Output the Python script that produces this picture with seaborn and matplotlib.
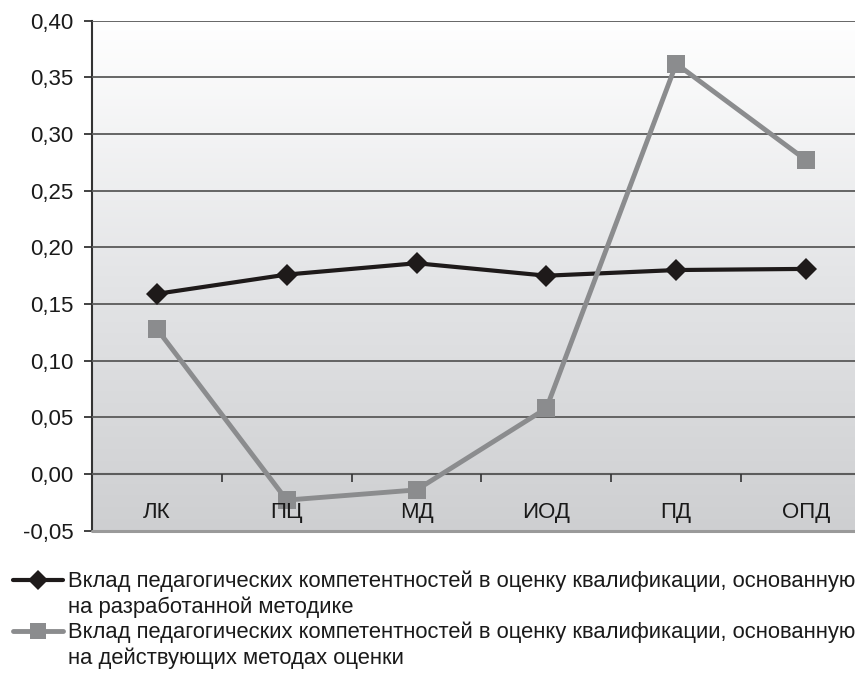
import numpy as np
import pandas as pd
import matplotlib
matplotlib.use("Agg")
import matplotlib.pyplot as plt
import seaborn as sns
from matplotlib.colors import LinearSegmentedColormap
from matplotlib.lines import Line2D

categories = ["ЛК", "ПЦ", "МД", "ИОД", "ПД", "ОПД"]
series_new = [0.159, 0.176, 0.186, 0.175, 0.180, 0.181]
series_old = [0.128, -0.023, -0.014, 0.058, 0.362, 0.277]
label_new = ["Вклад педагогических компетентностей в оценку квалификации, основанную",
             "на разработанной методике"]
label_old = ["Вклад педагогических компетентностей в оценку квалификации, основанную",
             "на действующих методах оценки"]
yticks = [-0.05, 0.00, 0.05, 0.10, 0.15, 0.20, 0.25, 0.30, 0.35, 0.40]

sns.set_theme(style="white")
plt.rcParams['font.family'] = ['Liberation Sans', 'DejaVu Sans']

name_new = "\n".join(label_new)
name_old = "\n".join(label_old)
df = pd.DataFrame({
    "cat": list(range(len(categories))) * 2,
    "value": series_new + series_old,
    "series": [name_new] * len(categories) + [name_old] * len(categories),
})

fig = plt.figure(figsize=(8.55, 6.84), dpi=100)
ax = fig.add_axes([92/855, 1 - 530.7/684, (855-92)/855, (530.7-20.7)/684])

# gradient background
cmap = LinearSegmentedColormap.from_list("bg", ["#cecfd1", "#e4e5e7", "#ffffff"])
grad = np.linspace(0, 1, 256).reshape(-1, 1)
ax.imshow(grad, cmap=cmap, aspect="auto", extent=[0, 1, 0, 1], origin="lower",
          transform=ax.transAxes, zorder=0)

sns.lineplot(data=df, x="cat", y="value", hue="series", style="series",
             palette={name_new: "#1e1a1a", name_old: "#8b8c8e"},
             markers={name_new: "D", name_old: "s"},
             dashes=False, ax=ax, legend=False, zorder=5)
lines = ax.get_lines()
lines[0].set_linewidth(3.0); lines[0].set_markersize(11.5); lines[0].set_markeredgewidth(0)
lines[1].set_linewidth(3.5); lines[1].set_markersize(13); lines[1].set_markeredgewidth(0)

ax.set_xlim(-0.5, 5.5 - 16/130)
ax.set_ylim(-0.05, 0.40)
ax.set_xlabel(""); ax.set_ylabel("")

# y axis
ax.set_yticks(yticks)
ax.set_yticklabels([f"{v:.2f}".replace(".", ",") for v in yticks], fontsize=16, color="#1a1a1a")
ax.tick_params(axis="y", direction="out", length=6, width=1.3, color="#333333", pad=7.5, left=True)
ax.yaxis.grid(True, color="#5a5a5a", linewidth=1.3)
ax.set_axisbelow(False)
for gl in ax.get_ygridlines():
    gl.set_zorder(1)

# x axis at zero
ax.spines["bottom"].set_position(("data", 0))
ax.spines["bottom"].set_color("#707070")
ax.spines["bottom"].set_linewidth(1.5)
ax.spines["bottom"].set_zorder(2)
ax.set_xticks([0.5, 1.5, 2.5, 3.5, 4.5])
ax.set_xticklabels([])
ax.tick_params(axis="x", direction="out", length=6, width=1.2, color="#333333", bottom=True)
ax.set_xticks(range(len(categories)), minor=True)
ax.set_xticklabels(categories, minor=True, fontsize=16, color="#1a1a1a")
ax.tick_params(axis="x", which="minor", length=0, pad=20)
ax.xaxis.set_zorder(6)

ax.spines["left"].set_color("#333333")
ax.spines["left"].set_linewidth(1.5)
ax.spines["top"].set_visible(False)
ax.spines["right"].set_visible(False)
ax.axhline(-0.05, color="#9a9a9a", linewidth=2.2, zorder=3, clip_on=False)

blank = Line2D([], [], color="none")
handles = [
    Line2D([], [], color="#1e1a1a", lw=3.0, marker="D", markersize=10, markeredgewidth=0),
    blank,
    Line2D([], [], color="#8b8c8e", lw=3.5, marker="s", markersize=12, markeredgewidth=0),
    blank,
]
leg = fig.legend(handles, [label_new[0], label_new[1], label_old[0], label_old[1]],
                 loc="upper left", bbox_to_anchor=(13/855, 1 - 571/684), frameon=False,
                 fontsize=15.8, handlelength=2.3, handletextpad=0.2,
                 labelspacing=0.18, borderaxespad=0, borderpad=0)
for t in leg.get_texts():
    t.set_color("#1a1a1a")

fig.savefig("out.png", dpi=100)
